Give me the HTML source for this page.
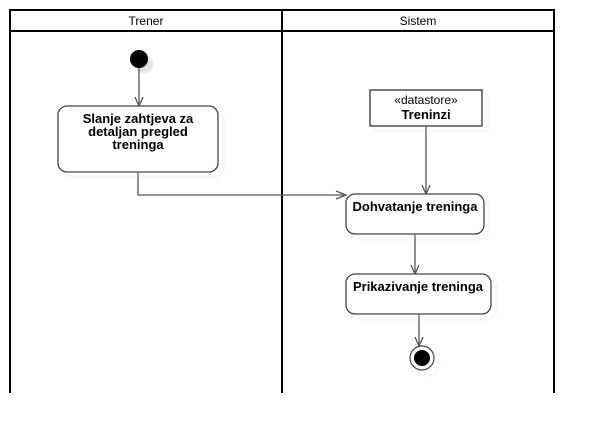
<!DOCTYPE html>
<html><head><style>
html,body{margin:0;padding:0;background:#fff;width:594px;height:434px;overflow:hidden}
svg{display:block}
text{font-family:"Liberation Sans",Arial,sans-serif;fill:#000}
</style></head><body>
<svg width="594" height="434" viewBox="0 0 594 434" xmlns="http://www.w3.org/2000/svg">
<defs>
<filter id="sh" x="-20%" y="-20%" width="150%" height="150%"><feOffset dx="5" dy="5"/><feGaussianBlur stdDeviation="1"/><feComponentTransfer><feFuncA type="linear" slope="0.12"/></feComponentTransfer><feMerge><feMergeNode/><feMergeNode in="SourceGraphic"/></feMerge></filter>
</defs>
<!-- swimlanes -->
<g stroke="#000" stroke-width="2" fill="none">
<line x1="9" y1="10" x2="555" y2="10"/>
<line x1="9" y1="31" x2="555" y2="31"/>
<line x1="10" y1="10" x2="10" y2="393"/>
<line x1="282" y1="10" x2="282" y2="393"/>
<line x1="554" y1="10" x2="554" y2="393"/>
</g>
<text x="146" y="25" font-size="12" text-anchor="middle">Trener</text>
<text x="418" y="25" font-size="12" text-anchor="middle">Sistem</text>

<!-- initial -->
<circle cx="139" cy="59" r="9" fill="#000" filter="url(#sh)"/>
<!-- connectors -->
<g stroke="#555" stroke-width="1.3" fill="none">
<line x1="139" y1="68" x2="139" y2="106"/>
<polyline points="135,97 139,106 143,97"/>
<polyline points="138,172 138,195 346,195"/>
<polyline points="336,191 346,195 336,199"/>
<line x1="426" y1="126" x2="426" y2="194"/>
<polyline points="422,185 426,194 430,185"/>
<line x1="415" y1="234" x2="415" y2="274"/>
<polyline points="411,265 415,274 419,265"/>
<line x1="419" y1="314" x2="419" y2="346"/>
<polyline points="415,337 419,346 423,337"/>
</g>
<!-- activity 1 -->
<rect x="58" y="106" width="160" height="66" rx="9" fill="#fff" stroke="#444" stroke-width="1.3" filter="url(#sh)"/>
<text font-size="13" font-weight="bold" text-anchor="middle"><tspan x="138" y="123">Slanje zahtjeva za</tspan><tspan x="138" y="136">detaljan pregled</tspan><tspan x="138" y="149">treninga</tspan></text>
<!-- datastore -->
<rect x="370" y="90" width="112" height="36" fill="#fff" stroke="#333" stroke-width="1.3" filter="url(#sh)"/>
<text x="426" y="104" font-size="12" text-anchor="middle">«datastore»</text>
<text x="426" y="119" font-size="13" font-weight="bold" text-anchor="middle">Treninzi</text>
<!-- Dohvatanje -->
<rect x="346" y="194" width="138" height="40" rx="9" fill="#fff" stroke="#444" stroke-width="1.3" filter="url(#sh)"/>
<text x="415" y="211" font-size="13" font-weight="bold" text-anchor="middle">Dohvatanje treninga</text>
<!-- Prikazivanje -->
<rect x="346" y="274" width="145" height="40" rx="9" fill="#fff" stroke="#444" stroke-width="1.3" filter="url(#sh)"/>
<text x="418" y="291" font-size="13" font-weight="bold" text-anchor="middle">Prikazivanje treninga</text>
<!-- final -->
<circle cx="422" cy="358" r="12" fill="#fff" stroke="#444" stroke-width="1.2" filter="url(#sh)"/>
<circle cx="422" cy="358" r="8" fill="#000"/>
</svg>
</body></html>
